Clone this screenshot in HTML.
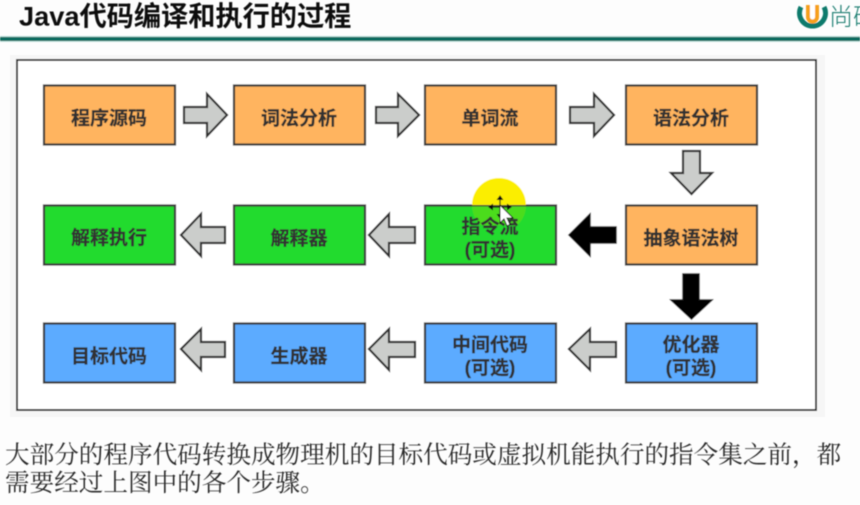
<!DOCTYPE html>
<html lang="zh-CN">
<head>
<meta charset="utf-8">
<style>
html,body{margin:0;padding:0;background:#fdfdfd;width:860px;height:505px;overflow:hidden}
svg{display:block}
.t{font-family:"Liberation Sans","Noto Sans CJK SC",sans-serif;font-size:19px;font-weight:700;fill:#333;stroke:#333;stroke-width:.3;text-anchor:middle}
.b{stroke:#3a3a3a;stroke-width:2.2}
.o{fill:#ffb45e}.g{fill:#22db2e}.l{fill:#5cabff}
.a{fill:#cbcdcb;stroke:#333;stroke-width:2.2;stroke-linejoin:miter}
.k{fill:#000;stroke:#111;stroke-width:1.5}
</style>
</head>
<body>
<svg width="860" height="505" viewBox="0 0 860 505" xmlns="http://www.w3.org/2000/svg">
<defs><filter id="s" x="0" y="0" width="100%" height="100%"><feGaussianBlur stdDeviation="0.4"/></filter></defs>
<rect width="860" height="505" fill="#fdfdfd"/>
<g filter="url(#s)">
<text x="19" y="25.500" font-family="'Liberation Sans','Noto Sans CJK SC',sans-serif" font-size="27.200" font-weight="700" fill="#111">Java代码编译和执行的过程</text>
<rect x="0" y="37" width="860" height="4" fill="#0d6c60"/>
<rect x="0" y="36" width="860" height="1" fill="#b5ded8"/>
<rect x="0" y="41" width="860" height="1" fill="#c5e5e0"/>
<path d="M801 7a13 13 0 1 0 23 0" fill="none" stroke="#0d7a6c" stroke-width="5"/>
<path d="M806 5h13v12a6.500 6.500 0 0 1-13 0z" fill="#f6a01d"/>
<path d="M810 5h5v12a2.500 2.500 0 0 1-5 0z" fill="#fff"/>
<text x="829" y="25" font-family="'Noto Sans CJK SC',sans-serif" font-size="24" font-weight="300" fill="#1b7d70">尚硅</text>
<rect x="10" y="55" width="815" height="362" fill="#f6f6f6"/>
<rect x="17" y="60" width="799" height="350" fill="#fff" stroke="#333" stroke-width="2"/>

<g class="b">
<rect class="o" x="44" y="85.500" width="131" height="59"/>
<rect class="o" x="234" y="85.500" width="131" height="59"/>
<rect class="o" x="425" y="85.500" width="131" height="59"/>
<rect class="o" x="626" y="85.500" width="131" height="59"/>
<rect class="g" x="44" y="205.500" width="131" height="59"/>
<rect class="g" x="234" y="205.500" width="131" height="59"/>
<rect class="g" x="425" y="205.500" width="131" height="59"/>
<rect class="o" x="626" y="205.500" width="131" height="59"/>
<rect class="l" x="44" y="323.500" width="131" height="59"/>
<rect class="l" x="234" y="323.500" width="131" height="59"/>
<rect class="l" x="425" y="323.500" width="131" height="59"/>
<rect class="l" x="626" y="323.500" width="131" height="59"/>
</g>

<polygon class="a" points="184,107 207,107 207,94 227,115 207,136 207,123 184,123"/>
<polygon class="a" points="376,107 398,107 398,94 419,115 398,136 398,123 376,123"/>
<polygon class="a" points="570,107 594,107 594,94 614,115 594,136 594,123 570,123"/>
<polygon class="a" points="683,151 700,151 700,173 712,173 691.500,194 671,173 683,173"/>
<polygon class="k" points="616,227 590,227 590,214 569,235 590,256 590,243 616,243"/>
<polygon class="a" points="415,227 389,227 389,214 369,235 389,256 389,243 415,243"/>
<polygon class="a" points="225,227 201,227 201,214 181,235 201,256 201,243 225,243"/>
<polygon class="k" points="683,274 699,274 699,300 712,300 691.500,319 671,300 683,300"/>
<polygon class="a" points="616,342 590,342 590,329 569,349 590,370 590,357 616,357"/>
<polygon class="a" points="415,342 389,342 389,329 369,349 389,370 389,357 415,357"/>
<polygon class="a" points="225,342 201,342 201,329 181,349 201,370 201,357 225,357"/>

<path d="M472 205a27 27 0 0 1 54 0z" fill="#fbee00"/>
<path d="M472 206.200h54a27 27 0 0 1-9 19h-36a27 27 0 0 1-9-19z" fill="#6fdc14" opacity=".55"/>

<text class="t" x="109" y="124.500">程序源码</text>
<text class="t" x="299" y="124.500">词法分析</text>
<text class="t" x="490" y="124.500">单词流</text>
<text class="t" x="691" y="124.500">语法分析</text>
<text class="t" x="109" y="244">解释执行</text>
<text class="t" x="299" y="244.500">解释器</text>
<text class="t" x="490" y="233">指令流</text>
<text class="t" x="490" y="256">(可选)</text>
<text class="t" x="691" y="244.500">抽象语法树</text>
<text class="t" x="109" y="362.500">目标代码</text>
<text class="t" x="299" y="362.500">生成器</text>
<text class="t" x="490" y="351">中间代码</text>
<text class="t" x="490" y="374">(可选)</text>
<text class="t" x="691" y="351">优化器</text>
<text class="t" x="691" y="374">(可选)</text>

<g stroke="#111" stroke-width="1" fill="#111">
<path d="M500 198v20M490 207h20" stroke-width="1.2"/>
<path d="M500 196l-2.500 3.500h5zM500 218l-2.500-3.500h5zM489 207l3.500-2.500v5zM511 207l-3.500-2.500v5z"/>
</g>
<path d="M500 205v18l4-4 3 7 3-1.500-3-6.500h6z" fill="#fff" stroke="#111" stroke-width="1"/>

<g font-family="'Noto Serif CJK SC','Liberation Serif',serif" font-size="24.600" fill="#2a2a2a">
<text x="5" y="463">大部分的程序代码转换成物理机的目标代码或虚拟机能执行的指令集之前，都</text>
<text x="5" y="491">需要经过上图中的各个步骤。</text>
</g>
</g>
</svg>
</body>
</html>
